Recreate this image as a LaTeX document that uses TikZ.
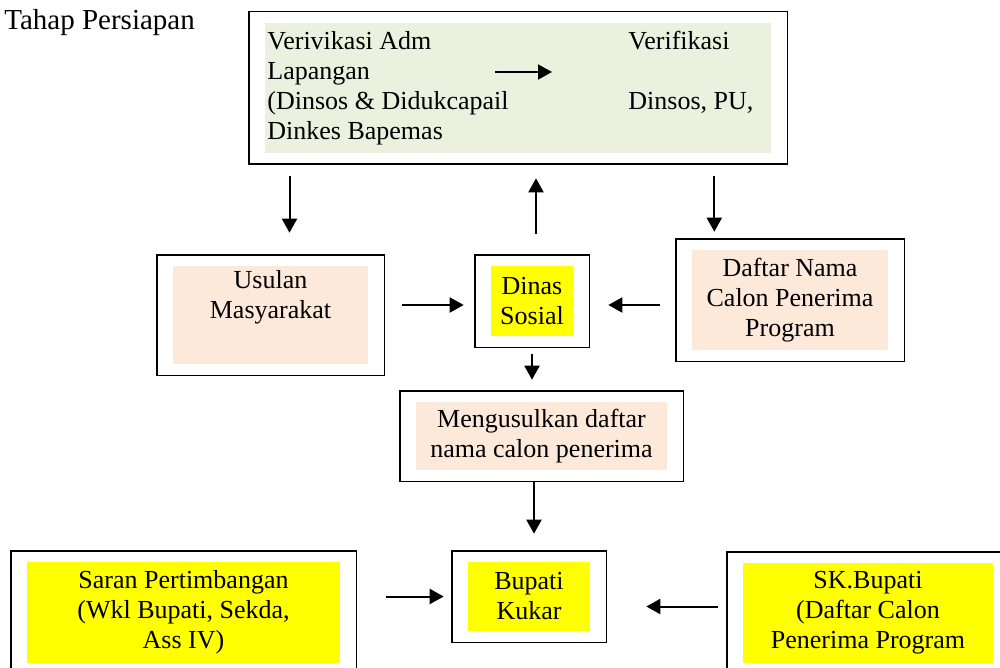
\documentclass[tikz,border=0pt]{standalone}
\usepackage{fontspec}
\setmainfont{Liberation Serif}
\usetikzlibrary{arrows.meta,fit}

\definecolor{hijau}{HTML}{EBF1DE}
\definecolor{krem}{HTML}{FDE9D9}
\definecolor{kuning}{HTML}{FFFF00}

\begin{document}
\begin{tikzpicture}[x=0.5pt, y=-0.5pt, >={Triangle[length=7pt,width=7.5pt]},
    isi/.style={inner sep=0pt, align=center, font=\fontsize{13}{15}\selectfont},
    bingkai/.style={draw, line width=0.9pt, inner xsep=8pt, inner ysep=5.5pt},
    panah/.style={->, line width=1pt}]
  \useasboundingbox (0,0) rectangle (1000,668);

  \node[anchor=base west, inner sep=0pt, font=\fontsize{14.5}{17}\selectfont] (judul) at (4,30) {Tahap Persiapan};

  % verifikasi
  \node[isi, fill=hijau, minimum width=253pt, minimum height=65pt] (verIn) at (518,88) {};
  \node[bingkai, fit=(verIn)] (ver) {};
  \node[isi, align=left, anchor=north west] (verKiri) at (267,31) {Verivikasi Adm\\Lapangan\\(Dinsos \& Didukcapail\\Dinkes Bapemas};
  \node[isi, align=left, anchor=north west] (verKanan) at (628,31) {Verifikasi\\[15pt]Dinsos, PU,};
  \coordinate (ia) at (495,72);
  \coordinate (ib) at (552,72);
  \draw[panah] (ia) -- (ib);

  % baris tengah
  \node[isi, fill=krem, minimum width=97.5pt, minimum height=49pt] (usulanIn) at (270.5,315) {};
  \node[isi, anchor=north] (usulanTx) at ([yshift=-2pt]usulanIn.north) {Usulan\\Masyarakat};
  \node[bingkai, fit=(usulanIn)] (usulan) {};

  \node[isi, fill=kuning, minimum width=41pt, minimum height=35pt] (dinasIn) at (532,301) {Dinas\\Sosial};
  \node[bingkai, fit=(dinasIn)] (dinas) {};

  \node[isi, fill=krem, minimum width=98pt, minimum height=50pt] (daftarIn) at (790,300) {Daftar Nama\\Calon Penerima\\Program};
  \node[bingkai, fit=(daftarIn)] (daftar) {};

  \node[isi, fill=krem, minimum width=125.5pt, minimum height=34pt] (mengIn) at (541.5,436) {Mengusulkan daftar\\nama calon penerima};
  \node[bingkai, fit=(mengIn)] (meng) {};

  % baris bawah
  \node[isi, fill=kuning, minimum width=61pt, minimum height=34.5pt] (bupatiIn) at (529,596.5) {Bupati\\Kukar};
  \node[bingkai, fit=(bupatiIn)] (bupati) {};

  \node[isi, fill=kuning, minimum width=156.5pt, minimum height=50.5pt] (saranIn) at (183.5,612.5) {Saran Pertimbangan\\(Wkl Bupati, Sekda,\\Ass IV)};
  \node[bingkai, fit=(saranIn)] (saran) {};

  \node[isi, fill=kuning, minimum width=125pt, minimum height=50pt] (skIn) at (868,613) {SK.Bupati\\(Daftar Calon\\Penerima Program};
  \node[bingkai, fit=(skIn)] (sk) {};

  % panah
  \draw[panah, shorten <=5.5pt, shorten >=10.5pt] ([xshift=9.5pt]usulan.north |- ver.south) -- ([xshift=9.5pt]usulan.north);
  \draw[panah, shorten <=10pt, shorten >=6.5pt] ([xshift=2pt]dinas.north) -- ([xshift=2pt]dinas.north |- ver.south);
  \draw[panah, shorten <=5.5pt, shorten >=3pt] ([xshift=-37pt]ver.south east) -- ([xshift=-37pt]ver.south east |- daftar.north);
  \draw[panah, shorten <=8.5pt, shorten >=5pt] ([yshift=-2pt]usulan.east |- dinas.west) -- ([yshift=-2pt]dinas.west);
  \draw[panah, shorten <=7.5pt, shorten >=9pt] ([yshift=-2pt]daftar.west |- dinas.east) -- ([yshift=-2pt]dinas.east);
  \draw[panah, shorten <=3pt, shorten >=5pt] (dinas.south) -- (dinas.south |- meng.north);
  \draw[panah, shorten >=8pt] ([xshift=2.5pt]bupati.north |- meng.south) -- ([xshift=2.5pt]bupati.north);
  \draw[panah, shorten <=14.5pt, shorten >=3.5pt] (saran.east |- bupati.west) -- (bupati.west);
  \draw[panah, shorten <=4pt, shorten >=19.5pt] ([yshift=-5pt]sk.west |- bupati.east) -- ([yshift=-5pt]bupati.east);
\end{tikzpicture}
\end{document}
